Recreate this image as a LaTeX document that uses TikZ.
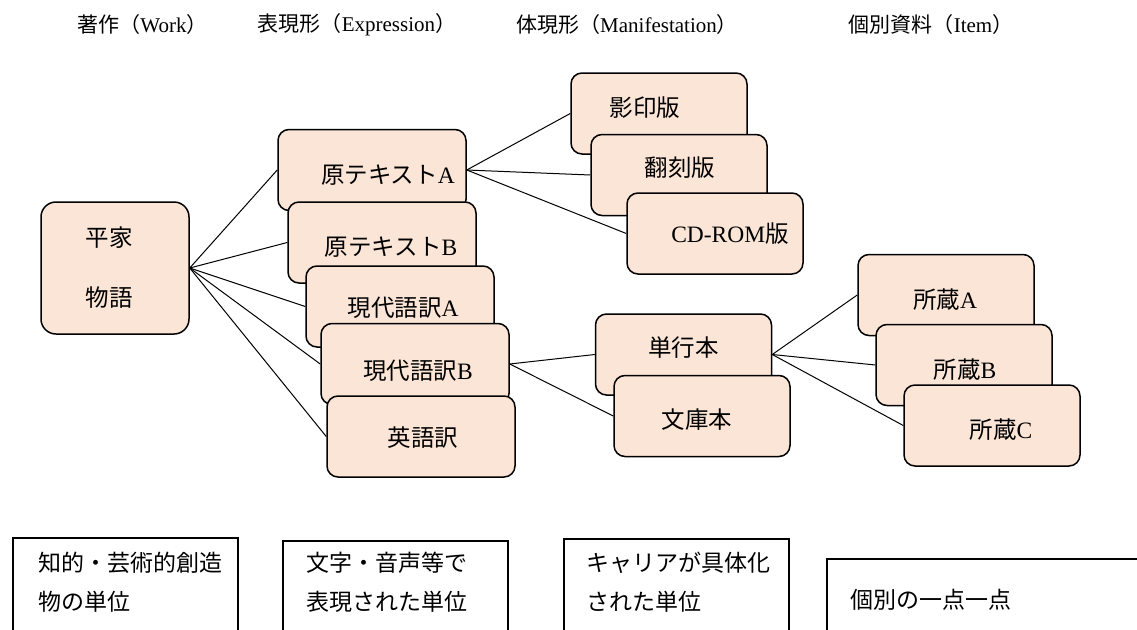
\documentclass[tikz,border=0pt]{standalone}
\usepackage{fontspec}
\setmainfont{Liberation Serif}
\newfontfamily\jp{Noto Sans CJK JP}
\definecolor{peach}{HTML}{FBE5D6}
\newcommand\tsh[3]{\hspace*{#1pt}\raisebox{#2pt}[0pt][0pt]{#3}\hspace*{-#1pt}}
\begin{document}
\begin{tikzpicture}[x=1pt,y=-1pt,
  ebox/.style={draw=black, line width=1.5pt, fill=peach, rounded corners=11pt,
    minimum width=188pt, minimum height=81pt, inner sep=0pt,
    font=\fontsize{23.5}{27}\selectfont},
  mbox/.style={ebox, minimum width=176pt},
  conn/.style={line width=1pt, draw=black},
  hdr/.style={inner sep=0pt, font=\fontsize{21}{24}\selectfont},
  ubox/.style={draw=black, line width=1.5pt, anchor=north west,
    minimum width=225pt, minimum height=200pt, inner sep=0pt},
  utext/.style={inner sep=0pt, anchor=west, align=left,
    font=\jp\fontsize{23}{39}\selectfont}]
\useasboundingbox (0,0) rectangle (1137,629);
\clip (0,0) rectangle (1137,629);

% headers
\node[hdr] (h1) at (142.5,25) {{\jp 著作（}Work{\jp ）}};
\node[hdr] (h2) at (357,25) {{\jp 表現形（}Expression{\jp ）}};
\node[hdr] (h3) at (627,25) {{\jp 体現形（}Manifestation{\jp ）}};
\node[hdr] (h4) at (931,25) {{\jp 個別資料（}Item{\jp ）}};

% work
\node[ebox, minimum width=148pt, minimum height=132pt, rounded corners=15pt,
  align=center, font=\jp\fontsize{23.5}{60}\selectfont] (work) at (115,268)
  {平家\hspace*{12pt}\\物語\hspace*{12pt}};

% expressions
\node[ebox] (ta) at (372,170) {\tsh{16}{-13.9}{{\jp 原テキスト}A}};
\node[ebox] (tb) at (382,242.5) {\tsh{9}{-13.4}{{\jp 原テキスト}B}};
\node[ebox] (ga) at (400,306.5) {\tsh{3}{-10.4}{{\jp 現代語訳}A}};
\node[ebox] (gb) at (415,364) {\tsh{3}{-15.9}{{\jp 現代語訳}B}};
\node[ebox] (ei) at (421,436.5) {\tsh{2}{-10.4}{\jp 英語訳}};

% manifestations
\node[mbox] (ein) at (659,113.5) {\tsh{-14}{-3.4}{\jp 影印版}};
\node[mbox] (hon) at (679,175) {\tsh{1}{-1.9}{\jp 翻刻版}};
\node[mbox] (cd) at (715,233.5) {\tsh{15}{-8.9}{CD-ROM{\jp 版}}};
\node[mbox] (tan) at (683.5,354.5) {\tsh{0}{-2.4}{\jp 単行本}};
\node[mbox] (bun) at (702,416) {\tsh{-5}{-12.9}{\jp 文庫本}};

% items
\node[mbox] (sa) at (946,295) {\tsh{-1}{-13.9}{{\jp 所蔵}A}};
\node[mbox] (sb) at (964,365) {\tsh{1}{-13.9}{{\jp 所蔵}B}};
\node[mbox] (sc) at (992,425.5) {\tsh{9}{-13.4}{{\jp 所蔵}C}};

% connectors
\foreach \t in {ta,tb,ga,gb,ei} \draw[conn] (work.east) -- (\t.west);
\foreach \t in {ein,hon,cd} \draw[conn] (ta.east) -- (\t.west);
\foreach \t in {tan,bun} \draw[conn] (gb.east) -- (\t.west);
\foreach \t in {sa,sb,sc} \draw[conn] (tan.east) -- (\t.west);

% bottom description boxes
\node[ubox] (u1) at (12,537) {};
\node[ubox] (u2) at (282,540) {};
\node[ubox] (u3) at (563,538) {};
\node[ubox, minimum width=330pt] (u4) at (826,558) {};
\node[utext] (t1) at (38,582.5) {知的・芸術的創造\\物の単位};
\node[utext] (t2) at (306,582.5) {文字・音声等で\\表現された単位};
\node[utext] (t3) at (586,582.5) {キャリアが具体化\\された単位};
\node[utext] (t4) at (850,600) {個別の一点一点};
\end{tikzpicture}
\end{document}
